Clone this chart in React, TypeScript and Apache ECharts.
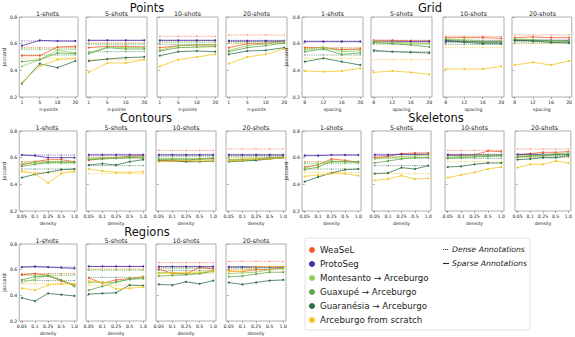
import React, { useEffect, useRef } from "react";
import * as echarts from "echarts";

const methods = [
  "WeaSeL",
  "ProtoSeg",
  "Montesanto → Arceburgo",
  "Guaxupé → Arceburgo",
  "Guaranésia → Arceburgo",
  "Arceburgo from scratch",
];
const colors = ["#F05A28", "#4B2AA0", "#8FCF5A", "#5EA64A", "#2F6B45", "#F2C520"];
const shotTitles = ["1-shots", "5-shots", "10-shots", "20-shots"];
const pointsTicks = ["1", "5", "10", "20"];
const gridTicks = ["8", "12", "16", "20"];
const densityTicks = ["0.05", "0.1", "0.25", "0.5", "1.0"];

// Dense annotation results (flat), one value per method, per shot count
const dense1 = [0.57, 0.62, 0.565, 0.555, 0.515, 0.49];
const dense5 = [0.605, 0.625, 0.6, 0.595, 0.54, 0.48];
const dense10 = [0.655, 0.625, 0.615, 0.61, 0.595, 0.57];
const dense20 = [0.665, 0.625, 0.62, 0.615, 0.605, 0.6];

// Sparse annotations — Points (x: n-points)
const points1 = [
  [0.51, 0.51, 0.575, 0.58],
  [0.585, 0.625, 0.62, 0.62],
  [0.43, 0.48, 0.55, 0.53],
  [0.465, 0.48, 0.53, 0.525],
  [0.3, 0.45, 0.42, 0.47],
  [0.31, 0.43, 0.48, 0.49],
];
const points5 = [
  [0.57, 0.58, 0.58, 0.575],
  [0.625, 0.625, 0.625, 0.625],
  [0.53, 0.575, 0.57, 0.57],
  [0.525, 0.57, 0.56, 0.56],
  [0.47, 0.485, 0.495, 0.5],
  [0.385, 0.455, 0.455, 0.48],
];
const points10 = [
  [0.57, 0.585, 0.59, 0.59],
  [0.625, 0.625, 0.625, 0.625],
  [0.55, 0.585, 0.59, 0.595],
  [0.545, 0.57, 0.575, 0.58],
  [0.51, 0.54, 0.545, 0.54],
  [0.43, 0.48, 0.5, 0.52],
];
const points20 = [
  [0.57, 0.6, 0.6, 0.62],
  [0.62, 0.62, 0.62, 0.62],
  [0.55, 0.585, 0.6, 0.615],
  [0.54, 0.57, 0.585, 0.605],
  [0.52, 0.545, 0.55, 0.57],
  [0.45, 0.5, 0.52, 0.56],
];

// Grid (x: spacing)
const grid1 = [
  [0.57, 0.57, 0.555, 0.56],
  [0.615, 0.615, 0.615, 0.615],
  [0.555, 0.575, 0.54, 0.545],
  [0.54, 0.56, 0.52, 0.53],
  [0.465, 0.49, 0.465, 0.44],
  [0.395, 0.39, 0.395, 0.415],
];
const grid5 = [
  [0.625, 0.625, 0.62, 0.62],
  [0.615, 0.615, 0.615, 0.615],
  [0.62, 0.61, 0.605, 0.6],
  [0.61, 0.6, 0.59, 0.575],
  [0.55, 0.54, 0.535, 0.53],
  [0.385, 0.395, 0.385, 0.37],
];
const grid10 = [
  [0.645, 0.645, 0.645, 0.64],
  [0.615, 0.615, 0.615, 0.615],
  [0.635, 0.63, 0.62, 0.62],
  [0.63, 0.62, 0.61, 0.61],
  [0.625, 0.61, 0.6, 0.6],
  [0.41, 0.41, 0.41, 0.43],
];
const grid20 = [
  [0.645, 0.65, 0.645, 0.645],
  [0.625, 0.625, 0.625, 0.625],
  [0.635, 0.63, 0.625, 0.62],
  [0.63, 0.625, 0.62, 0.615],
  [0.625, 0.62, 0.61, 0.605],
  [0.44, 0.46, 0.44, 0.47],
];

// Contours (x: density)
const contours1 = [
  [0.545, 0.57, 0.585, 0.585, 0.57],
  [0.62, 0.615, 0.6, 0.6, 0.6],
  [0.555, 0.565, 0.57, 0.57, 0.565],
  [0.535, 0.55, 0.565, 0.565, 0.565],
  [0.45, 0.475, 0.49, 0.51, 0.515],
  [0.5, 0.48, 0.41, 0.48, 0.5],
];
const contours5 = [
  [0.58, 0.595, 0.6, 0.61, 0.615],
  [0.62, 0.62, 0.62, 0.62, 0.62],
  [0.59, 0.6, 0.6, 0.605, 0.605],
  [0.585, 0.59, 0.595, 0.6, 0.6],
  [0.545, 0.555, 0.545, 0.57, 0.585],
  [0.515, 0.5, 0.49, 0.49, 0.495],
];
const contours10 = [
  [0.58, 0.58, 0.575, 0.595, 0.59],
  [0.62, 0.62, 0.62, 0.62, 0.62],
  [0.59, 0.595, 0.59, 0.59, 0.6],
  [0.585, 0.585, 0.585, 0.585, 0.595],
  [0.575, 0.575, 0.57, 0.57, 0.575],
  [0.57, 0.575, 0.58, 0.575, 0.58],
];
const contours20 = [
  [0.585, 0.585, 0.59, 0.6, 0.605],
  [0.62, 0.62, 0.62, 0.62, 0.62],
  [0.585, 0.59, 0.59, 0.6, 0.6],
  [0.575, 0.58, 0.585, 0.595, 0.6],
  [0.57, 0.575, 0.58, 0.59, 0.6],
  [0.575, 0.58, 0.59, 0.59, 0.6],
];

// Skeletons (x: density)
const skeletons1 = [
  [0.53, 0.545, 0.59, 0.58, 0.565],
  [0.615, 0.615, 0.62, 0.62, 0.62],
  [0.52, 0.55, 0.575, 0.57, 0.565],
  [0.51, 0.53, 0.57, 0.57, 0.57],
  [0.42, 0.455, 0.485, 0.51, 0.515],
  [0.46, 0.47, 0.48, 0.48, 0.465],
];
const skeletons5 = [
  [0.6, 0.61, 0.63, 0.635, 0.635],
  [0.62, 0.62, 0.625, 0.625, 0.625],
  [0.59, 0.6, 0.61, 0.615, 0.62],
  [0.56, 0.575, 0.59, 0.6, 0.6],
  [0.48, 0.485, 0.525, 0.515, 0.54],
  [0.43, 0.44, 0.465, 0.44, 0.445],
];
const skeletons10 = [
  [0.62, 0.62, 0.62, 0.65, 0.645],
  [0.62, 0.62, 0.62, 0.62, 0.62],
  [0.6, 0.61, 0.615, 0.62, 0.62],
  [0.595, 0.6, 0.605, 0.61, 0.615],
  [0.53, 0.535, 0.55, 0.56, 0.56],
  [0.45, 0.47, 0.49, 0.515, 0.53],
];
const skeletons20 = [
  [0.62, 0.63, 0.64, 0.64, 0.645],
  [0.625, 0.625, 0.625, 0.625, 0.625],
  [0.61, 0.615, 0.62, 0.63, 0.635],
  [0.605, 0.61, 0.615, 0.62, 0.625],
  [0.585, 0.59, 0.6, 0.6, 0.615],
  [0.525, 0.55, 0.55, 0.575, 0.56],
];

// Regions (x: density)
const regions1 = [
  [0.56, 0.57, 0.555, 0.51, 0.485],
  [0.62, 0.625, 0.62, 0.615, 0.61],
  [0.5, 0.525, 0.56, 0.52, 0.475],
  [0.52, 0.545, 0.55, 0.52, 0.47],
  [0.38, 0.355, 0.415, 0.405, 0.395],
  [0.455, 0.44, 0.48, 0.49, 0.49],
];
const regions5 = [
  [0.535, 0.495, 0.52, 0.53, 0.545],
  [0.625, 0.625, 0.625, 0.625, 0.625],
  [0.5, 0.5, 0.5, 0.525, 0.54],
  [0.44, 0.47, 0.505, 0.525, 0.53],
  [0.41, 0.415, 0.42, 0.48, 0.475],
  [0.51, 0.505, 0.45, 0.455, 0.465],
];
const regions10 = [
  [0.605, 0.57, 0.567, 0.618, 0.605],
  [0.623, 0.623, 0.623, 0.623, 0.623],
  [0.575, 0.58, 0.565, 0.57, 0.585],
  [0.55, 0.555, 0.56, 0.57, 0.59],
  [0.485, 0.48, 0.505, 0.49, 0.515],
  [0.57, 0.575, 0.58, 0.58, 0.59],
];
const regions20 = [
  [0.59, 0.585, 0.6, 0.6, 0.62],
  [0.62, 0.62, 0.62, 0.62, 0.62],
  [0.57, 0.575, 0.58, 0.6, 0.61],
  [0.545, 0.55, 0.565, 0.58, 0.58],
  [0.5, 0.485, 0.5, 0.515, 0.52],
  [0.585, 0.585, 0.625, 0.625, 0.625],
];

const FONT = "DejaVu Sans";

type Section = {
  title: string;
  titleX: number;
  titleY: number;
  xName: string;
  ticks: string[];
  top: number;
  height: number;
  lefts: number[];
  width: number;
  titleRowY: number;
  data: number[][][];
};

const sections: Section[] = [
  { title: "Points", titleX: 147, titleY: 8, xName: "n-points", ticks: pointsTicks, top: 17, height: 80, lefts: [17, 86, 157, 226], width: 61, titleRowY: 13, data: [points1, points5, points10, points20] },
  { title: "Grid", titleX: 430, titleY: 8, xName: "spacing", ticks: gridTicks, top: 17, height: 80, lefts: [302, 371, 443, 512], width: 61, titleRowY: 13, data: [grid1, grid5, grid10, grid20] },
  { title: "Contours", titleX: 146, titleY: 118, xName: "density", ticks: densityTicks, top: 131, height: 80, lefts: [17, 86, 156, 226], width: 60, titleRowY: 127, data: [contours1, contours5, contours10, contours20] },
  { title: "Skeletons", titleX: 436, titleY: 118, xName: "density", ticks: densityTicks, top: 131, height: 80, lefts: [302, 372, 445, 515], width: 59, titleRowY: 127, data: [skeletons1, skeletons5, skeletons10, skeletons20] },
  { title: "Regions", titleX: 147, titleY: 232, xName: "density", ticks: densityTicks, top: 244, height: 79, lefts: [17, 86, 156, 226], width: 60, titleRowY: 240, data: [regions1, regions5, regions10, regions20] },
];
const denseByShot = [dense1, dense5, dense10, dense20];

function buildOption() {
  const grid: any[] = [];
  const xAxis: any[] = [];
  const yAxis: any[] = [];
  const series: any[] = [];
  const graphic: any[] = [];
  let gi = 0;
  sections.forEach((sec) => {
    graphic.push({
      type: "text",
      x: sec.titleX,
      y: sec.titleY,
      style: { text: sec.title, fontSize: 11.5, fontFamily: FONT, fill: "#111", align: "center", verticalAlign: "middle" },
    });
    sec.data.forEach((rows, si) => {
      const n = sec.ticks.length;
      const idx = sec.ticks.map((_, k) => k);
      const left = sec.lefts[si];
      grid.push({ left, top: sec.top, width: sec.width, height: sec.height, show: true, borderColor: "#9a9a9a", borderWidth: 0.8, backgroundColor: "#fff" });
      graphic.push({
        type: "text",
        x: left + sec.width / 2,
        y: sec.titleRowY,
        style: { text: shotTitles[si], fontSize: 6.3, fontFamily: FONT, fill: "#222", align: "center", verticalAlign: "middle" },
      });
      xAxis.push({
        type: "value",
        gridIndex: gi,
        min: -0.05 * (n - 1),
        max: (n - 1) * 1.05,
        name: sec.xName,
        nameLocation: "middle",
        nameGap: 10,
        nameTextStyle: { fontSize: 4.6, fontFamily: FONT, color: "#222" },
        axisLine: { show: false },
        splitLine: { show: false },
        axisTick: { show: true, length: 2, customValues: idx, lineStyle: { color: "#777", width: 0.6 } },
        axisLabel: {
          show: true,
          customValues: idx,
          fontSize: 4.6,
          fontFamily: FONT,
          color: "#222",
          margin: 2.5,
          formatter: (v: number) => sec.ticks[Math.round(v)] ?? "",
        },
      });
      const first = si === 0;
      yAxis.push({
        type: "value",
        gridIndex: gi,
        min: 0.2,
        max: 0.8,
        interval: 0.2,
        name: first ? "Jaccard" : "",
        nameLocation: "middle",
        nameGap: 11,
        nameRotate: 90,
        nameTextStyle: { fontSize: 5, fontFamily: FONT, color: "#222" },
        axisLine: { show: false },
        splitLine: { show: false },
        axisTick: { show: true, length: 2, lineStyle: { color: "#777", width: 0.6 } },
        axisLabel: {
          show: first,
          fontSize: 4.6,
          fontFamily: FONT,
          color: "#222",
          margin: 2,
          formatter: (v: number) => v.toFixed(1),
        },
      });
      const dense = denseByShot[si];
      methods.forEach((m, mi) => {
        series.push({
          type: "line",
          name: m,
          xAxisIndex: gi,
          yAxisIndex: gi,
          data: rows[mi].map((v, k) => [k, v]),
          symbol: "circle",
          symbolSize: 2,
          itemStyle: { color: colors[mi] },
          lineStyle: { color: colors[mi], width: 0.9, opacity: 0.85 },
          silent: true,
          z: 3,
        });
      });
      methods.forEach((m, mi) => {
        series.push({
          type: "line",
          name: m,
          xAxisIndex: gi,
          yAxisIndex: gi,
          data: idx.map((k) => [k, dense[mi]]),
          symbol: "circle",
          symbolSize: 1.4,
          itemStyle: { color: colors[mi], opacity: 0.6 },
          lineStyle: { color: colors[mi], width: 0.9, type: [1.2, 1], opacity: 0.65 },
          silent: true,
          z: 2,
        });
      });
      gi++;
    });
  });

  // legend frame and line-style key
  graphic.push({
    type: "rect",
    z: 1,
    shape: { x: 305, y: 238, width: 225, height: 92, r: 2 },
    style: { fill: "#fff", stroke: "#d8d8d8", lineWidth: 0.8 },
  });
  graphic.push({
    type: "line",
    z: 2,
    shape: { x1: 443, y1: 249.5, x2: 449, y2: 249.5 },
    style: { stroke: "#222", lineWidth: 0.9, lineDash: [1.2, 0.8] },
  });
  graphic.push({
    type: "text",
    z: 2,
    x: 452,
    y: 249.5,
    style: { text: "Dense Annotations", fontSize: 7.7, fontStyle: "italic", fontFamily: FONT, fill: "#222", verticalAlign: "middle" },
  });
  graphic.push({
    type: "line",
    z: 2,
    shape: { x1: 443, y1: 263.5, x2: 449, y2: 263.5 },
    style: { stroke: "#222", lineWidth: 1.1 },
  });
  graphic.push({
    type: "text",
    z: 2,
    x: 452,
    y: 263.5,
    style: { text: "Sparse Annotations", fontSize: 7.7, fontStyle: "italic", fontFamily: FONT, fill: "#222", verticalAlign: "middle" },
  });

  return {
    animation: false,
    backgroundColor: "#fff",
    textStyle: { fontFamily: FONT },
    grid,
    xAxis,
    yAxis,
    series,
    graphic,
    legend: {
      data: methods,
      orient: "vertical",
      left: 309,
      top: 245,
      icon: "circle",
      itemWidth: 6,
      itemHeight: 6,
      itemGap: 4,
      padding: 0,
      selectedMode: false,
      z: 5,
      itemStyle: { opacity: 1 },
      textStyle: { fontSize: 8.7, lineHeight: 10, fontFamily: FONT, color: "#222" },
    },
  };
}

export default function App() {
  const ref = useRef<HTMLDivElement>(null);
  useEffect(() => {
    if (!ref.current) return;
    const chart = echarts.init(ref.current, undefined, { renderer: "svg" });
    chart.setOption(buildOption() as any);
    return () => chart.dispose();
  }, []);
  return <div ref={ref} style={{ width: 575, height: 337, position: "absolute", left: 0, top: 0 }} />;
}
